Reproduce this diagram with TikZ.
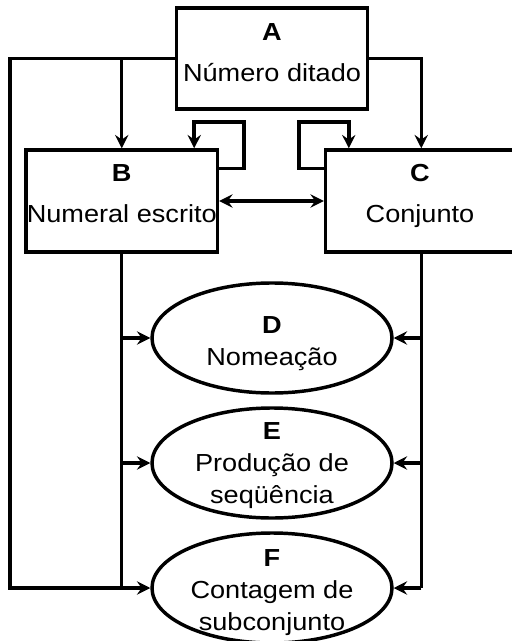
\documentclass[tikz,border=0pt]{standalone}
\usepackage{fontspec}
\setmainfont{Liberation Sans}[FakeStretch=1.1]
\usetikzlibrary{arrows.meta,shapes.geometric}

\begin{document}
\begin{tikzpicture}[x=0.75pt, y=-0.75pt,
    line width=2.6pt,
    >={Stealth[length=10pt,width=10pt,inset=3.5pt]},
    caixa/.style={draw, rectangle, minimum width=143.6pt, minimum height=75.5pt, inner sep=0pt},
    elipse/.style={draw, ellipse, minimum width=180pt, minimum height=82.5pt, inner sep=0pt},
    rotcaixa/.style={inner sep=0pt, anchor=north, align=center, font={\fontsize{18.5pt}{30.75pt}\selectfont}},
    rotelipse/.style={inner sep=0pt, anchor=north, align=center, font={\fontsize{18.5pt}{24pt}\selectfont}}]
    % 範囲
    \useasboundingbox (0,0) rectangle (511,641);

    % 箱
    \node[caixa] (A) at (272,58.5) {};
    \node[caixa, minimum height=76.5pt] (B) at (121.75,201) {};
    \node[caixa, minimum height=76.5pt] (C) at (421.25,201) {};

    % 楕円
    \node[elipse] (D) at (272,338) {};
    \node[elipse] (E) at (272,463) {};
    \node[elipse] (F) at (272,588) {};

    % 文字
    \node[rotcaixa] (A-t) at (272,21.3) {\textbf{A}\\Número ditado};
    \node[rotcaixa] (B-t) at (121.75,162.3) {\textbf{B}\\Numeral escrito};
    \node[rotcaixa] (C-t) at (420,162.3) {\textbf{C}\\Conjunto};
    \node[rotelipse] (D-t) at (272,314.3) {\textbf{D}\\Nomeação};
    \node[rotelipse] (E-t) at (272,420.3) {\textbf{E}\\Produção de\\seqüência};
    \node[rotelipse] (F-t) at (272,547.3) {\textbf{F}\\Contagem de\\subconjunto};

    % 接続点
    \coordinate (esq) at (10,588);
    \coordinate (loopB) at (244,122);
    \coordinate (loopC) at (299,122);

    % A から
    \draw (A.west) -| (esq) -- (B.south |- F.west);
    \draw[->] (A.west -| B.north) -- (B.north);
    \draw[->] (A.east) -| (C.north);

    % 自己ループ
    \draw[->] ([yshift=-15pt]B.north east) -| (loopB) -| ([xshift=-18.75pt]B.north east);
    \draw[->] ([yshift=-15pt]C.north west) -| (loopC) -| ([xshift=18.75pt]C.north west);

    % B と C
    \draw[<->] (B.east) -- (C.west);

    % 下の枝
    \draw (B.south) -- (B.south |- F.west);
    \draw (C.south) -- (C.south |- F.east);
    \foreach \n in {D,E,F} {
        \draw[->] (B.south |- \n.west) -- (\n.west);
        \draw[->] (C.south |- \n.east) -- (\n.east);
    }
\end{tikzpicture}
\end{document}
